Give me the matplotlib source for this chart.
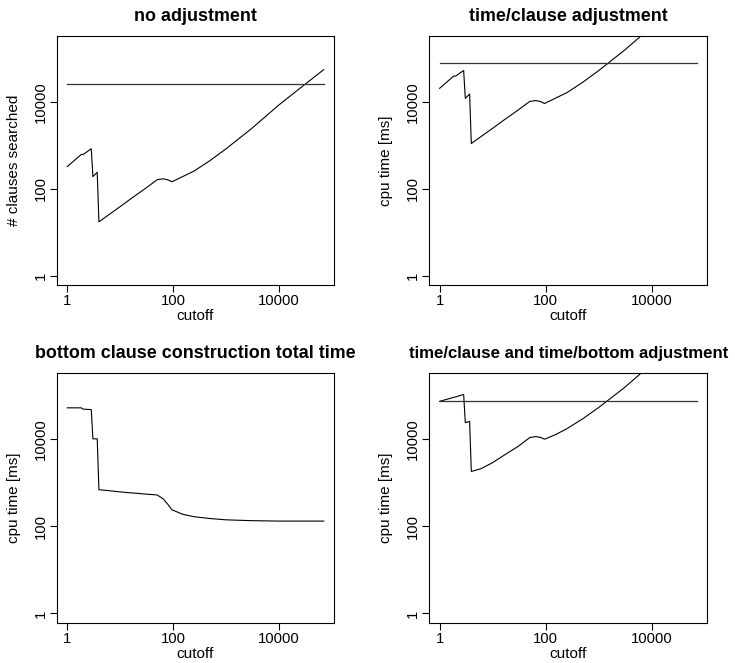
import matplotlib
matplotlib.use("Agg")
import matplotlib.pyplot as plt
from matplotlib.ticker import FixedLocator, FixedFormatter, NullLocator

plt.rcParams['font.family'] = ['Liberation Sans', 'DejaVu Sans']

# shared cutoff values
cutoff = [1, 1.84, 2, 2.84, 3.05, 3.68, 3.96, 6, 10, 15, 20, 30, 50, 65, 80, 95,
          150, 250, 500, 1000, 3000, 10000, 30000, 70000]

# panel 1: number of clauses searched
clauses_searched = [324, 617, 617, 832, 190, 240, 17.4, 25, 39, 56, 72, 102, 162, 170,
                    160, 145, 190, 257, 447, 832, 2400, 8500, 24500, 55000]
clauses_ref = 26000

# panel 2: cpu time with time/clause adjustment
time_clause = [20400, 38900, 38900, 52400, 12000, 15100, 1100, 1580, 2460, 3530, 4540,
               6430, 10200, 10700, 10100, 9140, 12000, 16200, 28200, 52400, 151000,
               536000, 1540000, 3470000]
time_ref = 77000

# panel 3: bottom clause construction total time
bottom_time = [52500, 52500, 49000, 47900, 10200, 10200, 692, 660, 617, 590, 575, 550,
               525, 427, 316, 240, 190, 166, 151, 141, 135, 132, 132, 132]

# panel 4: time/clause and time/bottom adjustment
time_both = [74100, 91200, 93300, 107000, 24000, 25700, 1820, 2100, 2900, 4000, 5000,
             6800, 10900, 11500, 11000, 10000, 12600, 17400, 29500, 53700, 151000,
             537000, 1550000, 3470000]

titles = ["no adjustment", "time/clause adjustment",
          "bottom clause construction total time",
          "time/clause and time/bottom adjustment"]
title_sizes = [12.9, 12.9, 12.9, 12.1]
ylabels = ["# clauses searched", "cpu time [ms]", "cpu time [ms]", "cpu time [ms]"]
xlabel = "cutoff"
tick_vals = [1, 100, 10000]
tick_labels = ["1", "100", "10000"]

series = [clauses_searched, time_clause, bottom_time, time_both]
refs = [clauses_ref, time_ref, None, time_ref]

W, H = 735, 663
fig = plt.figure(figsize=(W / 100, H / 100), dpi=100)

boxes = [(57, 36, 334, 285), (429.3, 36, 707, 285),
         (57, 373.3, 334, 622.7), (429.3, 373.3, 707, 622.7)]

xlo, xhi = 10 ** -0.194, 10 ** 5.039
ylo, yhi = 10 ** -0.212, 10 ** 5.513

for i in range(4):
    l, t, r, b = boxes[i]
    ax = fig.add_axes([l / W, (H - b) / H, (r - l) / W, (b - t) / H])
    ax.set_xscale('log')
    ax.set_yscale('log')
    ax.plot(cutoff, series[i], color='black', lw=0.8)
    if refs[i] is not None:
        ax.plot([cutoff[0], cutoff[-1]], [refs[i], refs[i]], color='#333333', lw=0.9)
    ax.set_xlim(xlo, xhi)
    ax.set_ylim(ylo, yhi)
    for a in (ax.xaxis, ax.yaxis):
        a.set_major_locator(FixedLocator(tick_vals))
        a.set_major_formatter(FixedFormatter(tick_labels))
        a.set_minor_locator(NullLocator())
    ax.tick_params(axis='both', which='major', direction='out', length=5,
                   width=0.8, labelsize=10.7, pad=1.5, colors='black')
    for lab in ax.get_yticklabels():
        lab.set_rotation(90)
        lab.set_va('center')
    for s in ax.spines.values():
        s.set_linewidth(0.8)
        s.set_color('black')
    ax.set_title(titles[i], fontsize=title_sizes[i], fontweight='bold', pad=11)
    ax.set_xlabel(xlabel, fontsize=11, labelpad=1)
    ax.set_ylabel(ylabels[i], fontsize=11, labelpad=9.5)

fig.savefig("out.png", dpi=100)
